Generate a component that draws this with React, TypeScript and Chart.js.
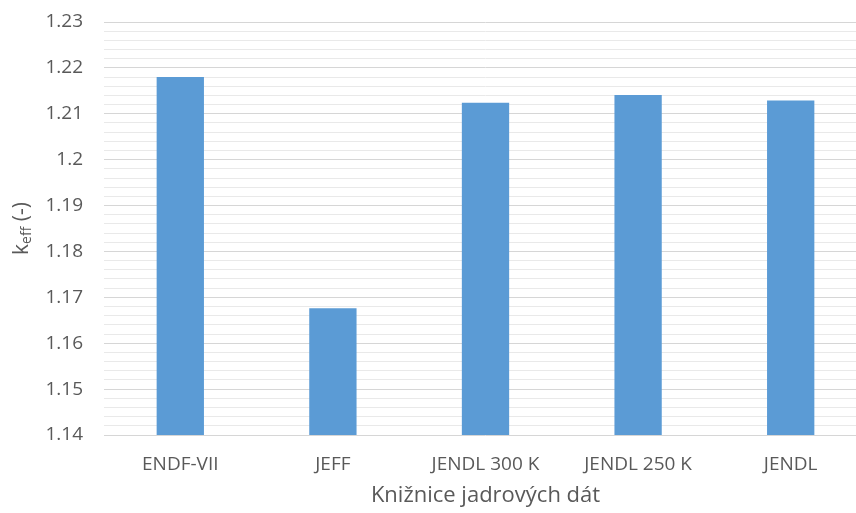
import React, { useEffect, useRef } from 'react';
import { Chart, registerables } from 'chart.js';

Chart.register(...registerables);

// Nuclear data libraries and the computed multiplication factor for each
const categories = ['ENDF-VII', 'JEFF', 'JENDL 300 K', 'JENDL 250 K', 'JENDL'];
const keffValues = [1.218, 1.1676, 1.2124, 1.2141, 1.2129];

// Value axis range with major labelled steps and lighter minor steps
const yMin = 1.14;
const yMax = 1.23;
const majorStep = 0.01;
const minorStep = 0.002;

const xTitle = 'Knižnice jadrových dát';
const yTitleMain = 'k';
const yTitleSub = 'eff';
const yTitleTail = ' (-)';

const FONT = '"Open Sans", "Noto Sans", sans-serif';
const TEXT_COLOR = '#595959';

const isMajor = (v: number) => Math.abs(Math.round(v / majorStep) * majorStep - v) < 1e-6;

const axisTitles = {
  id: 'axisTitles',
  afterDraw(chart: any) {
    const { ctx, chartArea } = chart;
    ctx.save();
    ctx.fillStyle = TEXT_COLOR;

    // category axis title
    ctx.font = `22px ${FONT}`;
    ctx.textAlign = 'center';
    ctx.textBaseline = 'middle';
    ctx.fillText(xTitle, (chartArea.left + chartArea.right) / 2, chartArea.bottom + 61);

    // value axis title with subscript, rotated
    ctx.translate(21, (chartArea.top + chartArea.bottom) / 2);
    ctx.rotate(-Math.PI / 2);
    ctx.textAlign = 'left';
    ctx.textBaseline = 'alphabetic';
    const mainFont = `21px ${FONT}`;
    const subFont = `14px ${FONT}`;
    ctx.font = mainFont;
    const wMain = ctx.measureText(yTitleMain).width;
    const wTail = ctx.measureText(yTitleTail).width;
    ctx.font = subFont;
    const wSub = ctx.measureText(yTitleSub).width;
    let x = -(wMain + wSub + wTail) / 2;
    ctx.font = mainFont;
    ctx.fillText(yTitleMain, x, 7);
    x += wMain;
    ctx.font = subFont;
    ctx.fillText(yTitleSub, x, 10);
    x += wSub;
    ctx.font = mainFont;
    ctx.fillText(yTitleTail, x, 7);
    ctx.restore();
  },
};

export default function App() {
  const canvasRef = useRef<HTMLCanvasElement | null>(null);

  useEffect(() => {
    const canvas = canvasRef.current;
    if (!canvas) return;
    const chart = new Chart(canvas, {
      type: 'bar',
      data: {
        labels: categories,
        datasets: [
          {
            data: keffValues,
            backgroundColor: '#5B9BD5',
            borderWidth: 0,
            categoryPercentage: 1,
            barPercentage: 0.31,
          },
        ],
      },
      options: {
        animation: false,
        responsive: false,
        maintainAspectRatio: false,
        layout: { padding: { top: 22, left: 0, right: 0, bottom: 0 } },
        plugins: {
          legend: { display: false },
          tooltip: { enabled: false },
        },
        scales: {
          x: {
            grid: { display: false, drawTicks: false },
            border: { display: false },
            ticks: {
              color: TEXT_COLOR,
              font: { family: FONT, size: 19 },
              padding: 18,
              maxRotation: 0,
              autoSkip: false,
            },
            afterFit: (scale: any) => {
              scale.height = 78;
              scale.paddingLeft = 0;
              scale.paddingRight = 0;
            },
          },
          y: {
            min: yMin,
            max: yMax,
            border: { display: false },
            grid: {
              drawTicks: false,
              lineWidth: 1,
              color: (c: any) => (c.tick && isMajor(c.tick.value) ? '#d6d6d6' : '#e9e9e9'),
            },
            ticks: {
              color: TEXT_COLOR,
              font: { family: FONT, size: 19 },
              padding: 21,
              autoSkip: false,
              callback: (v: any) => (isMajor(Number(v)) ? String(Number(Number(v).toFixed(2))) : ''),
            },
            afterBuildTicks: (scale: any) => {
              const n = Math.round((yMax - yMin) / minorStep);
              const ticks = [];
              for (let i = 0; i <= n; i++) ticks.push({ value: yMin + i * minorStep });
              scale.ticks = ticks;
            },
            afterFit: (scale: any) => {
              scale.width = 104;
              scale.paddingTop = 0;
              scale.paddingBottom = 0;
            },
          },
        },
      },
      plugins: [axisTitles],
    });
    return () => chart.destroy();
  }, []);

  return (
    <div
      style={{
        position: 'fixed',
        left: 0,
        top: 0,
        width: 856,
        height: 513,
        overflow: 'hidden',
        background: '#ffffff',
      }}
    >
      <canvas ref={canvasRef} width={867} height={513} style={{ width: 867, height: 513, display: 'block' }} />
    </div>
  );
}
